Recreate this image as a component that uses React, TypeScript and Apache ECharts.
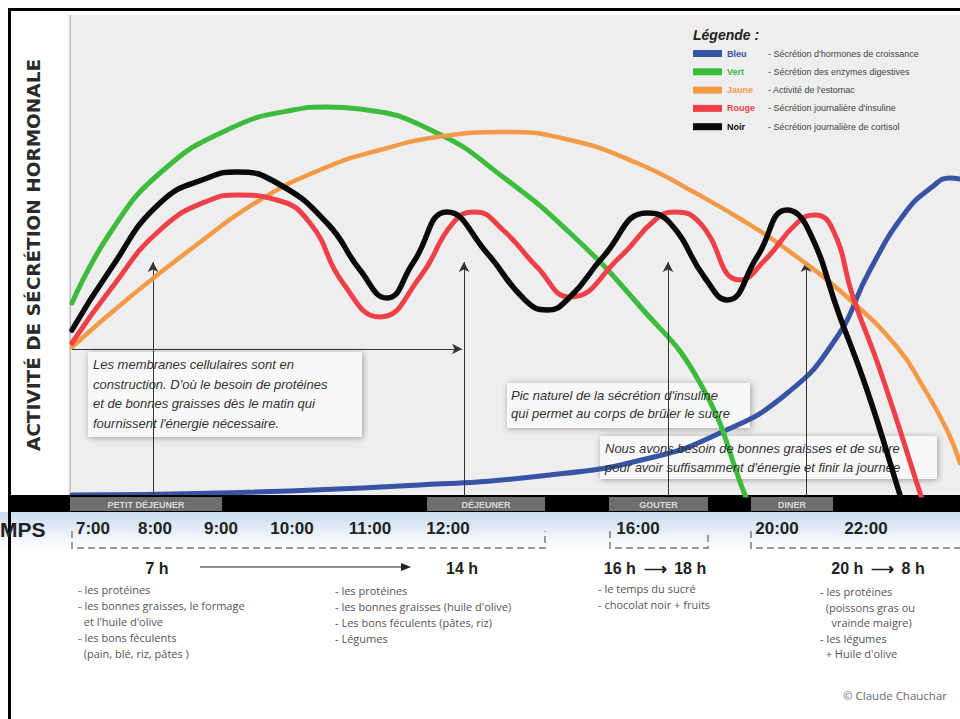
import React, { useEffect, useRef } from "react";
import * as echarts from "echarts";

// ---- Series (x: position along the day strip, y: secretion activity) ----
const seriesNames = ["Bleu", "Vert", "Jaune", "Rouge", "Noir"];
const seriesDescriptions = [
  "Sécrétion d'hormones de croissance",
  "Sécrétion des enzymes digestives",
  "Activité de l'estomac",
  "Sécrétion journalière d'insuline",
  "Sécrétion journalière de cortisol",
];
const seriesColors = ["#3753a3", "#3dbb3d", "#f29a45", "#ee4049", "#0a0a0a"];

const blueValues: [number, number][] = [
  [2, 0], [150, 2], [330, 9], [480, 20], [580, 37], [650, 62], [715, 100], [765, 155],
  [800, 225], [835, 282], [862, 308], [880, 317], [890, 316],
];
const greenValues: [number, number][] = [
  [2, 192], [40, 262], [90, 322], [157, 365], [223, 385], [257, 388], [290, 386],
  [367, 362], [433, 318], [500, 262], [567, 192], [630, 112], [675, 0], [682, -20],
];
const orangeValues: [number, number][] = [
  [2, 148], [60, 198], [125, 249], [190, 295], [257, 328], [310, 345], [367, 358],
  [433, 363], [500, 355], [567, 332], [620, 305], [677, 272], [727, 238], [777, 198],
  [827, 148], [852, 110], [877, 65], [890, 32],
];
const redValues: [number, number][] = [
  [2, 152], [40, 205], [90, 265], [140, 295], [167, 300], [207, 295], [240, 272],
  [273, 212], [310, 178], [350, 218], [383, 272], [405, 283], [433, 265], [467, 228],
  [500, 198], [550, 238], [585, 275], [605, 283], [630, 272], [670, 215], [695, 235],
  [727, 272], [745, 280], [763, 265], [783, 198], [810, 125], [850, 2], [855, -15],
];
const blackValues: [number, number][] = [
  [2, 165], [40, 225], [90, 292], [140, 318], [167, 323], [207, 312], [257, 272],
  [290, 225], [317, 197], [343, 232], [377, 283], [417, 242], [455, 195], [477, 185],
  [500, 198], [533, 238], [577, 282], [600, 272], [635, 217], [657, 195], [687, 238],
  [717, 285], [737, 268], [770, 178], [797, 105], [830, 0], [836, -20],
];
const seriesValues = [blueValues, greenValues, orangeValues, redValues, blackValues];
const seriesWidths = [5, 5, 4.5, 5, 5.5];

// ---- Time axis ----
const timeLabels = ["7:00", "8:00", "9:00", "10:00", "11:00", "12:00", "16:00", "20:00", "22:00"];
const timePositions = [23, 85, 151, 222, 300, 378, 568, 707, 796];

// ---- Guide arrows (meal moments) ----
const mealArrowPositions = [83, 394, 598, 736];
const mealArrowTop = 233;
const morningArrow = { from: 2, to: 392, level: 146 };

// ---- Texts ----
const mealLabels = ["PETIT DÉJEUNER", "DÉJEUNER", "GOUTER", "DINER"];
const noteMorning = [
  "Les membranes cellulaires sont en",
  "construction. D'où le besoin de protéines",
  "et de bonnes graisses dès le matin qui",
  "fournissent l'énergie nécessaire.",
];
const noteInsulin = ["Pic naturel de la sécrétion d'insuline", "qui permet au corps de brûler le sucre"];
const noteEvening = [
  "Nous avons besoin de bonnes graisses et de sucre",
  "pour avoir suffisamment d'énergie et finir la journée",
];
const breakfastFoods = [
  "- les protéines",
  "- les bonnes graisses, le formage",
  "  et l'huile d'olive",
  "- les bons féculents",
  "  (pain, blé, riz, pâtes )",
];
const lunchFoods = [
  "- les protéines",
  "- les bonnes graisses (huile d'olive)",
  "- Les bons féculents (pâtes, riz)",
  "- Légumes",
];
const snackFoods = ["- le temps du sucré", "- chocolat noir + fruits"];
const dinnerFoods = [
  "- les protéines",
  "  (poissons gras ou",
  "    vrainde maigre)",
  "- les légumes",
  "  + Huile d'olive",
];

export default function App() {
  const ref = useRef<HTMLDivElement>(null);

  useEffect(() => {
    document.body.style.margin = "0";
    if (!ref.current) return;
    const chart = echarts.init(ref.current, undefined, { renderer: "svg" });

    const rich: Record<string, any> = {
      d: { fontSize: 9, color: "#444", lineHeight: 11, fontFamily: "Liberation Sans" },
    };
    seriesNames.forEach((_, i) => {
      rich["n" + i] = {
        fontSize: 9,
        fontWeight: "bold",
        color: seriesColors[i],
        width: 41,
        lineHeight: 11,
        fontFamily: "Liberation Sans",
      };
    });

    const txt = (text: string, x: number, y: number, font: string, extra: any = {}) => ({
      type: "text",
      x,
      y,
      z: 5,
      style: {
        text,
        font,
        fill: extra.fill || "#222",
        textAlign: extra.align || "left",
        textVerticalAlign: extra.valign || "middle",
        lineHeight: extra.lineHeight,
      },
    });

    const noteBox = (x: number, y: number, w: number, h: number) => ({
      type: "rect",
      z: 1,
      shape: { x, y, width: w, height: h },
      style: { fill: "#f8f8f8", shadowBlur: 6, shadowColor: "rgba(0,0,0,0.35)", shadowOffsetX: 1, shadowOffsetY: 1 },
    });

    const mealBoxes = [
      [70, 152],
      [427, 118],
      [609, 99],
      [751, 82],
    ];

    const graphic: any[] = [
      // frame
      { type: "rect", z: 5, shape: { x: 8, y: 8, width: 3, height: 711 }, style: { fill: "#000" } },
      { type: "rect", z: 5, shape: { x: 8, y: 8, width: 952, height: 3 }, style: { fill: "#000" } },
      // plot shadow edge
      {
        type: "rect",
        z: 1,
        shape: { x: 67, y: 15, width: 4, height: 480 },
        style: {
          fill: new echarts.graphic.LinearGradient(0, 0, 1, 0, [
            { offset: 0, color: "rgba(255,255,255,0)" },
            { offset: 1, color: "rgba(150,150,150,0.8)" },
          ]),
        },
      },
      // meal band
      { type: "rect", z: 4, shape: { x: 8, y: 495, width: 952, height: 17 }, style: { fill: "#000" } },
      ...mealBoxes.map(([x, w]) => ({
        type: "rect",
        z: 4,
        shape: { x, y: 497, width: w, height: 14 },
        style: { fill: "#6e6e6e" },
      })),
      ...mealLabels.map((m, i) =>
        txt(m, mealBoxes[i][0] + mealBoxes[i][1] / 2, 504.5, 'bold 9px "Liberation Sans"', {
          fill: "#d8d8d8",
          align: "center",
        })
      ),
      // time row background
      {
        type: "rect",
        z: 0,
        shape: { x: 0, y: 512, width: 960, height: 36 },
        style: {
          fill: new echarts.graphic.LinearGradient(0, 0, 0, 1, [
            { offset: 0, color: "#c9dcf1" },
            { offset: 1, color: "#ffffff" },
          ]),
        },
      },
      txt("MPS", 0, 529, 'bold 21px "Liberation Sans"', { fill: "#222" }),
      // dashed brackets
      {
        type: "polyline",
        z: 3,
        shape: { points: [[72, 531], [72, 548], [545, 548], [545, 531]] },
        style: { stroke: "#9a9a9a", lineWidth: 2, lineDash: [7, 4], fill: null },
      },
      {
        type: "polyline",
        z: 3,
        shape: { points: [[610, 531], [610, 548], [708, 548], [708, 531]] },
        style: { stroke: "#9a9a9a", lineWidth: 2, lineDash: [7, 4], fill: null },
      },
      {
        type: "polyline",
        z: 3,
        shape: { points: [[751, 531], [751, 548], [960, 548]] },
        style: { stroke: "#9a9a9a", lineWidth: 2, lineDash: [7, 4], fill: null },
      },
      // period headings
      txt("7 h", 157, 568, 'bold 16px "Liberation Sans"', { align: "center" }),
      { type: "line", z: 3, shape: { x1: 200, y1: 567, x2: 404, y2: 567 }, style: { stroke: "#222", lineWidth: 1.2 } },
      { type: "polygon", z: 3, shape: { points: [[401, 563], [411, 567], [401, 571]] }, style: { fill: "#222" } },
      txt("14 h", 462, 568, 'bold 16px "Liberation Sans"', { align: "center" }),
      txt("16 h \u2009⟶\u2009 18 h", 655, 568, 'bold 16px "Liberation Sans"', { align: "center" }),
      txt("20 h \u2009⟶\u2009 8 h", 878, 568, 'bold 16px "Liberation Sans"', { align: "center" }),
      // food lists
      txt(breakfastFoods.join("\n"), 78, 581, '11px "Open Sans"', { fill: "#555", valign: "top", lineHeight: 16 }),
      txt(lunchFoods.join("\n"), 335, 582, '11px "Open Sans"', { fill: "#555", valign: "top", lineHeight: 16 }),
      txt(snackFoods.join("\n"), 598, 580, '11px "Open Sans"', { fill: "#555", valign: "top", lineHeight: 16 }),
      txt(dinnerFoods.join("\n"), 820, 584, '11px "Open Sans"', { fill: "#555", valign: "top", lineHeight: 15.5 }),
      txt("© Claude Chauchar", 843, 695, '11.5px "Open Sans"', { fill: "#666" }),
      // note boxes
      noteBox(88, 352, 274, 85),
      txt(noteMorning.join("\n"), 93, 355, 'italic 13px "Liberation Sans"', { fill: "#333", valign: "top", lineHeight: 19.5 }),
      noteBox(507, 383, 243, 45),
      txt(noteInsulin.join("\n"), 511, 386, 'italic 13px "Liberation Sans"', { fill: "#333", valign: "top", lineHeight: 18.5 }),
      noteBox(600, 436, 337, 43),
      txt(noteEvening.join("\n"), 605, 438.5, 'italic 13px "Liberation Sans"', { fill: "#333", valign: "top", lineHeight: 19 }),
    ];

    const series: any[] = seriesNames.map((name, i) => ({
      type: "line",
      name,
      data: seriesValues[i],
      smooth: 0.5,
      symbol: "none",
      showSymbol: false,
      z: 3 + i,
      lineStyle: { width: seriesWidths[i], color: seriesColors[i], cap: "round" },
      itemStyle: { color: seriesColors[i] },
    }));
    series[0].markLine = {
      silent: true,
      symbol: ["none", "arrow"],
      symbolSize: [8, 10],
      label: { show: false },
      lineStyle: { color: "#333", width: 1, type: "solid" },
      data: [
        ...mealArrowPositions.map((x) => [{ coord: [x, 0] }, { coord: [x, mealArrowTop] }]),
        [{ coord: [morningArrow.from, morningArrow.level] }, { coord: [morningArrow.to, morningArrow.level] }],
      ],
    };

    chart.setOption({
      animation: false,
      backgroundColor: "#ffffff",
      title: {
        text: "Légende :",
        left: 688,
        top: 23,
        textStyle: { fontSize: 14, fontWeight: "bold", fontStyle: "italic", color: "#222", fontFamily: "Liberation Sans" },
      },
      legend: {
        data: seriesNames,
        orient: "vertical",
        left: 688,
        top: 44,
        icon: "rect",
        itemWidth: 29,
        itemHeight: 7,
        itemGap: 9.3,
        selectedMode: false,
        formatter: (name: string) => {
          const i = seriesNames.indexOf(name);
          return `{n${i}|${name}}{d|- ${seriesDescriptions[i]}}`;
        },
        textStyle: { rich },
      },
      grid: {
        left: 70,
        right: 0,
        top: 15,
        bottom: 224,
        show: true,
        backgroundColor: "#eeeeee",
        borderWidth: 0,
      },
      xAxis: {
        type: "value",
        min: 0,
        max: 890,
        axisLine: { show: false },
        axisTick: { show: false },
        splitLine: { show: false },
        axisLabel: {
          customValues: timePositions,
          formatter: (v: number) => {
            const k = timePositions.indexOf(v);
            return k >= 0 ? timeLabels[k] : "";
          },
          margin: 25,
          fontSize: 17,
          fontWeight: "bold",
          color: "#222",
          fontFamily: "Liberation Sans",
        },
      },
      yAxis: {
        type: "value",
        min: 0,
        max: 480,
        name: "ACTIVITÉ DE SÉCRÉTION HORMONALE",
        nameLocation: "middle",
        nameRotate: 90,
        nameGap: 27,
        nameTextStyle: { fontSize: 18.5, fontWeight: "bold", color: "#2a2a2a", fontFamily: "DejaVu Sans" },
        axisLine: { show: false },
        axisTick: { show: false },
        axisLabel: { show: false },
        splitLine: { show: false },
      },
      series,
      graphic,
    });

    return () => chart.dispose();
  }, []);

  return <div ref={ref} style={{ position: "absolute", left: 0, top: 0, width: 960, height: 719 }} />;
}
